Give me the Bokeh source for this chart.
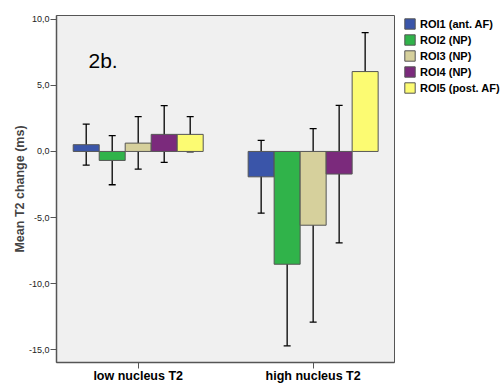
from bokeh.plotting import figure
from bokeh.models import (ColumnDataSource, FixedTicker, Whisker, TeeHead, Legend,
                          LegendItem, Label, Range1d)
from bokeh.embed import file_html
from bokeh.resources import INLINE

groups = ["low nucleus T2", "high nucleus T2"]
rois = ["ROI1 (ant. AF)", "ROI2 (NP)", "ROI3 (NP)", "ROI4 (NP)", "ROI5 (post. AF)"]
colors = ["#3a55a9", "#30b34a", "#d6d09c", "#7b2a7c", "#fcfb72"]

mean_low = [0.51, -0.68, 0.63, 1.29, 1.29]
upper_low = [2.07, 1.19, 2.63, 3.46, 2.63]
lower_low = [-1.03, -2.52, -1.33, -0.83, -0.03]

mean_high = [-1.92, -8.53, -5.58, -1.71, 6.04]
upper_high = [0.83, -2.37, 1.72, 3.48, 8.99]
lower_high = [-4.67, -14.70, -12.90, -6.92, 3.08]

y_ticks = [-15, -10, -5, 0, 5, 10]
y_tick_labels = ["-15,0", "-10,0", "-5,0", "0,0", "5,0", "10,0"]

bar_w = 0.1486

p = figure(frame_width=338, frame_height=347, output_backend="svg", toolbar_location=None,
           x_range=Range1d(-0.467, 1.465), y_range=Range1d(-15.96, 10.28),
           min_border_left=56, min_border_top=15, min_border_right=106, min_border_bottom=21)
p.title.visible = False
p.background_fill_color = "#f0f0f0"
p.border_fill_color = "white"
p.outline_line_color = "#555555"
p.outline_line_width = 1
p.xgrid.visible = False
p.ygrid.visible = False

items = []
for i, (name, col) in enumerate(zip(rois, colors)):
    xs = [g + (i - 2) * bar_w for g in range(len(groups))]
    src = ColumnDataSource(dict(x=xs, top=[mean_low[i], mean_high[i]],
                                up=[upper_low[i], upper_high[i]],
                                lo=[lower_low[i], lower_high[i]]))
    r = p.vbar(x="x", top="top", bottom=0, width=bar_w, source=src,
               fill_color=col, line_color="#555555", line_width=1)
    items.append(LegendItem(label=name, renderers=[r]))
    w = Whisker(base="x", upper="up", lower="lo", source=src,
                line_color="black", line_width=1.3,
                upper_head=TeeHead(size=7, line_color="black", line_width=1.3),
                lower_head=TeeHead(size=7, line_color="black", line_width=1.3))
    p.add_layout(w)

legend = Legend(items=items, location=(9, 268), orientation="vertical",
                glyph_width=13, glyph_height=13, label_height=13, spacing=3,
                padding=0, margin=0, label_standoff=4,
                label_text_font="Liberation Sans", label_text_font_style="bold",
                label_text_font_size="11px", label_text_color="black",
                border_line_alpha=0, background_fill_alpha=0)
p.add_layout(legend, "right")

p.add_layout(Label(x=-0.284, y=6.87, text="2b.", text_font="Liberation Sans",
                   text_font_size="21px", text_color="black", text_baseline="alphabetic"))

# y axis
p.yaxis.ticker = FixedTicker(ticks=y_ticks)
p.yaxis.major_label_overrides = {t: l for t, l in zip(y_ticks, y_tick_labels)}
p.yaxis.axis_label = "Mean T2 change (ms)"
p.yaxis.axis_label_text_font = "Liberation Sans"
p.yaxis.axis_label_text_font_style = "bold"
p.yaxis.axis_label_text_font_size = "12.5px"
p.yaxis.axis_label_standoff = -1
p.yaxis.major_label_text_font = "Liberation Sans"
p.yaxis.major_label_text_font_size = "9px"
p.yaxis.major_label_text_color = "#222222"
p.yaxis.major_label_standoff = 1
p.yaxis.major_tick_out = 6
p.yaxis.major_tick_in = 0
p.yaxis.minor_tick_out = 0
p.yaxis.minor_tick_in = 0
p.yaxis.axis_line_color = "#555555"
p.yaxis.axis_line_width = 1.5
p.yaxis.major_tick_line_color = "#555555"

# x axis
p.xaxis.ticker = FixedTicker(ticks=list(range(len(groups))))
p.xaxis.major_label_overrides = {i: g for i, g in enumerate(groups)}
p.xaxis.major_label_text_font = "Liberation Sans"
p.xaxis.major_label_text_font_style = "bold"
p.xaxis.major_label_text_font_size = "12.5px"
p.xaxis.major_label_text_color = "black"
p.xaxis.major_label_standoff = 0
p.xaxis.major_tick_out = 6
p.xaxis.major_tick_in = 0
p.xaxis.minor_tick_out = 0
p.xaxis.minor_tick_in = 0
p.xaxis.axis_line_color = "#555555"
p.xaxis.axis_line_width = 1.5
p.xaxis.major_tick_line_color = "#555555"

open("out.html", "w").write(file_html(p, INLINE))
